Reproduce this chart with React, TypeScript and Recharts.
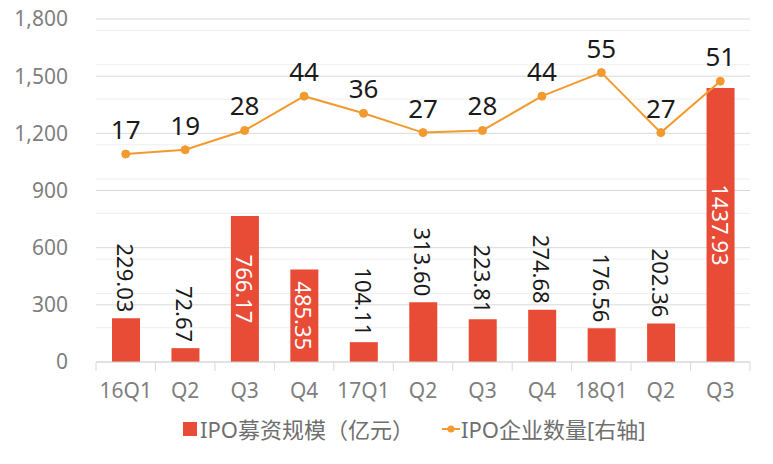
import React from 'react';
import { ComposedChart, Bar, Line, XAxis, YAxis, CartesianGrid, LabelList } from 'recharts';

const categories = ['16Q1', 'Q2', 'Q3', 'Q4', '17Q1', 'Q2', 'Q3', 'Q4', '18Q1', 'Q2', 'Q3'];
const ipoFunds = [229.03, 72.67, 766.17, 485.35, 104.11, 313.6, 223.81, 274.68, 176.56, 202.36, 1437.93];
const ipoCount = [17, 19, 28, 44, 36, 27, 28, 44, 55, 27, 51];
const leftTicks = [0, 300, 600, 900, 1200, 1500, 1800];
const minorTicks = [60, 120, 180, 240, 360, 420, 480, 540, 660, 720, 780, 840, 960, 1020, 1080, 1140, 1260, 1320, 1380, 1440, 1560, 1620, 1680, 1740];

const data = categories.map((c, i) => ({ key: `${c}-${i}`, name: c, funds: ipoFunds[i], count: ipoCount[i] }));

const W = 773;
const H = 464;
const M = { top: 19, right: 23, bottom: 0, left: 0 };
const Y_W = 96;
const STEP = (W - M.left - M.right - Y_W) / categories.length;

const BAR = '#E84B36';
const LINE = '#F29A2E';
const FONT = '"Noto Sans", "Noto Sans CJK SC", sans-serif';
const GRAY = '#7f7f7f';

const XTick = (props: any) => {
  const { x, y, payload, index } = props;
  const half = STEP / 2;
  const last = index === categories.length - 1;
  return (
    <g>
      <line x1={x - half} x2={x - half} y1={y} y2={y + 9} stroke="#d9d9d9" strokeWidth={1} />
      {last && <line x1={x + half} x2={x + half} y1={y} y2={y + 9} stroke="#d9d9d9" strokeWidth={1} />}
      <text x={x} y={y + 21} dy="0.71em" textAnchor="middle" fill={GRAY} fontSize={21} fontFamily={FONT}>
        {categories[index] ?? payload.value}
      </text>
    </g>
  );
};

const BarLabel = (props: any) => {
  const { x, y, width, height, value } = props;
  const cx = x + width / 2;
  const txt = Number(value).toFixed(2);
  if (value >= 400) {
    const cy = y + height / 2;
    return (
      <text x={cx} y={cy} transform={`rotate(90, ${cx}, ${cy})`} textAnchor="middle" dominantBaseline="central" fill="#ffffff" fontSize={22} fontFamily={FONT}>
        {txt}
      </text>
    );
  }
  const ay = y - 6;
  return (
    <text x={cx} y={ay} transform={`rotate(90, ${cx}, ${ay})`} textAnchor="end" dominantBaseline="central" fill="#1a1a1a" fontSize={22} fontFamily={FONT}>
      {txt}
    </text>
  );
};

const LineLabel = (props: any) => {
  const { x, y, value } = props;
  return (
    <text x={x} y={y - 15} textAnchor="middle" fill="#1a1a1a" fontSize={26} fontFamily={FONT}>
      {value}
    </text>
  );
};

export default function App() {
  return (
    <div style={{ position: 'absolute', left: 0, top: 0, width: W, height: H, background: '#fff', fontFamily: FONT }}>
      <ComposedChart width={W} height={H} data={data} margin={M}>
        <CartesianGrid vertical={false} stroke="#efefef" horizontalValues={minorTicks} yAxisId="left" />
        <CartesianGrid vertical={false} stroke="#d9d9d9" horizontalValues={leftTicks} yAxisId="left" />
        <XAxis
          dataKey="key"
          xAxisId={0}
          height={102}
          tickLine={false}
          tickSize={0}
          tickMargin={0}
          axisLine={{ stroke: '#d9d9d9' }}
          tick={<XTick />}
          interval={0}
        />
        <YAxis
          yAxisId="left"
          width={Y_W}
          domain={[0, 1800]}
          ticks={leftTicks}
          axisLine={false}
          tickLine={false}
          tickMargin={22}
          tick={{ fill: GRAY, fontSize: 21, fontFamily: FONT }}
          tickFormatter={(v: number) => v.toLocaleString('en-US')}
        />
        <YAxis yAxisId="right" orientation="right" hide width={0} domain={[-80, 80]} />
        <Bar yAxisId="left" dataKey="funds" fill={BAR} barSize={28} isAnimationActive={false}>
          <LabelList dataKey="funds" content={<BarLabel />} />
        </Bar>
        <Line
          yAxisId="right"
          dataKey="count"
          stroke={LINE}
          strokeWidth={2}
          dot={{ r: 4, fill: LINE, stroke: LINE, strokeWidth: 1 }}
          isAnimationActive={false}
        >
          <LabelList dataKey="count" content={<LineLabel />} />
        </Line>
      </ComposedChart>
      <div
        style={{
          position: 'absolute',
          left: 183,
          top: 416,
          display: 'flex',
          alignItems: 'center',
          fontSize: 22,
          color: '#6f6f6f',
          fontFamily: FONT,
          whiteSpace: 'nowrap',
          lineHeight: '26px',
        }}
      >
        <span style={{ display: 'inline-block', width: 14, height: 14, background: BAR, marginRight: 3 }} />
        <span>IPO募资规模（亿元）</span>
        <svg width={18} height={10} style={{ marginLeft: 28, marginRight: 1 }}>
          <line x1={0} x2={18} y1={5} y2={5} stroke={LINE} strokeWidth={2} />
          <circle cx={9} cy={5} r={3.5} fill={LINE} />
        </svg>
        <span>IPO企业数量[右轴]</span>
      </div>
    </div>
  );
}
